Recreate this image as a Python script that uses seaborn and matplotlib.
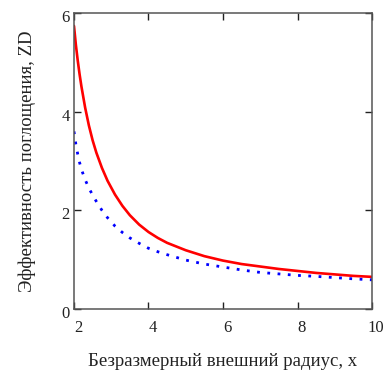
import matplotlib
matplotlib.use('Agg')
import matplotlib.pyplot as plt
import matplotlib.transforms as mtransforms
import seaborn as sns

# red curve
x_red = [2.0, 2.05, 2.1, 2.15, 2.2, 2.3, 2.4, 2.5, 2.6, 2.75, 2.9, 3.1, 3.3, 3.5,
         3.75, 4.0, 4.25, 4.5, 5.0, 5.5, 6.0, 6.5, 7.0, 7.5, 8.0, 8.5, 9.0, 9.5, 10.0]
y_red = [5.74, 5.36, 5.04, 4.76, 4.51, 4.08, 3.72, 3.42, 3.17, 2.86, 2.60, 2.32, 2.09, 1.90,
         1.71, 1.56, 1.44, 1.34, 1.19, 1.07, 0.98, 0.91, 0.86, 0.81, 0.77, 0.73, 0.70, 0.67, 0.65]

# blue dotted curve
x_blue = [2.0, 2.05, 2.1, 2.15, 2.2, 2.3, 2.4, 2.5, 2.6, 2.75, 2.9, 3.1, 3.3, 3.5,
          3.75, 4.0, 4.25, 4.5, 5.0, 5.5, 6.0, 6.5, 7.0, 7.5, 8.0, 8.5, 9.0, 9.5, 10.0]
y_blue = [3.60, 3.34, 3.14, 2.97, 2.83, 2.62, 2.45, 2.31, 2.18, 2.00, 1.85, 1.68, 1.55, 1.44,
          1.33, 1.23, 1.16, 1.10, 0.99, 0.91, 0.85, 0.79, 0.74, 0.71, 0.68, 0.66, 0.635, 0.61, 0.59]

x_ticks = [2, 4, 6, 8, 10]
y_ticks = [0, 2, 4, 6]
x_label = 'Безразмерный внешний радиус, x'
y_label = 'Эффективность поглощения, ZD'

sns.set_style('ticks')
plt.rcParams['font.family'] = ['Liberation Serif', 'DejaVu Serif']

fig = plt.figure(figsize=(3.88, 3.81), dpi=100)
ax = fig.add_axes([0.1907, 0.1892, 0.9588 - 0.1907, 0.9656 - 0.1892])

sns.lineplot(x=x_red, y=y_red, ax=ax, color='#ff0000', linewidth=1.9,
             sort=False, estimator=None)
sns.lineplot(x=x_blue, y=y_blue, ax=ax, color='#0000ff', linewidth=2.0,
             sort=False, estimator=None)
ax.lines[1].set_dashes((1, 2.7))
ax.lines[1].set_dash_capstyle('butt')

ax.set_xlim(2, 10)
ax.set_ylim(0, 6)
ax.set_xticks(x_ticks)
ax.set_yticks(y_ticks)
ax.tick_params(direction='in', length=5, width=1, colors='#222222',
               labelsize=12, top=True, right=True, pad=3)
ax.tick_params(axis='x', pad=8)
for s in ax.spines.values():
    s.set_color('#555555')
    s.set_linewidth(1.1)

# tick labels sit a bit right / below the ticks in the original
off_x = mtransforms.ScaledTranslation(4 / 100, 0, fig.dpi_scale_trans)
off_y = mtransforms.ScaledTranslation(0, -3 / 100, fig.dpi_scale_trans)
for lab in ax.get_xticklabels():
    lab.set_transform(lab.get_transform() + off_x)
for lab in ax.get_yticklabels():
    lab.set_transform(lab.get_transform() + off_y)

ax.set_xlabel(x_label, fontsize=13.5, labelpad=12, color='#222222')
ax.set_ylabel(y_label, fontsize=13.5, labelpad=18, color='#222222')

fig.savefig('out.png', dpi=100)
